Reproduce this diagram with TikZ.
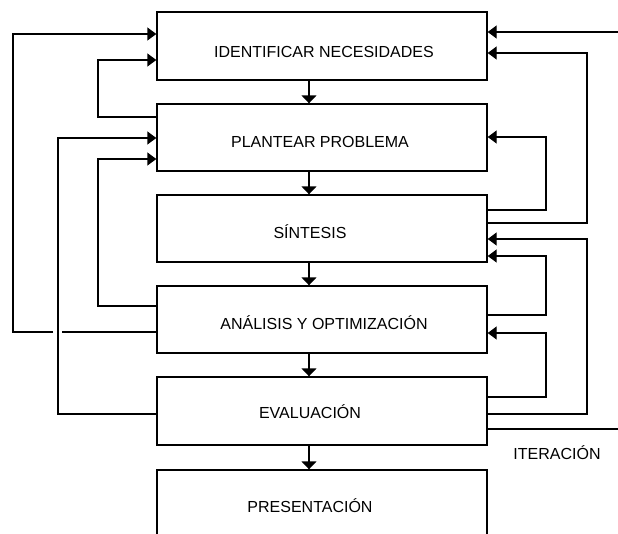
\documentclass[tikz,border=0pt]{standalone}
\usepackage{fontspec}
\setmainfont{Liberation Sans}
\usetikzlibrary{arrows.meta}
\begin{document}
\begin{tikzpicture}[x=1pt,y=-1pt,
  line width=1.4pt,
  stagebox/.style={draw, rectangle, minimum width=330pt, inner sep=0pt},
  lbl/.style={anchor=base, inner sep=0pt, font=\fontsize{16}{19}\selectfont},
  sidearr/.style={-{Triangle[length=9pt,width=13pt]}},
  downarr/.style={-{Triangle[length=8pt,width=15pt]}}]
\useasboundingbox (0,0) rectangle (618,533);
\clip (0,0) rectangle (618,533);
% boxes
\node[stagebox, minimum height=68pt] (b1) at (322,46) {};
\node[stagebox, minimum height=67pt] (b2) at (322,137.5) {};
\node[stagebox, minimum height=67pt] (b3) at (322,228.5) {};
\node[stagebox, minimum height=67pt] (b4) at (322,319.5) {};
\node[stagebox, minimum height=68pt] (b5) at (322,411) {};
\node[stagebox, minimum height=90pt] (b6) at (322,515) {};
% labels
\node[lbl] (t1) at (324,57) {IDENTIFICAR NECESIDADES};
\node[lbl] (t2) at (320,147) {PLANTEAR PROBLEMA};
\node[lbl] (t3) at (310,238) {SÍNTESIS};
\node[lbl] (t4) at (324,329) {ANÁLISIS Y OPTIMIZACIÓN};
\node[lbl] (t5) at (310,418) {EVALUACIÓN};
\node[lbl] (t6) at (310,512) {PRESENTACIÓN};
\node[lbl] (t7) at (557,459) {ITERACIÓN};
% free ends
\coordinate (gapR) at (62,332);
\coordinate (gapL) at (53,332);
\coordinate (inR) at (618,32);
\coordinate (outR) at (618,429);
% main flow
\draw[downarr] (309,0 |- b1.south) -- (309,0 |- b2.north);
\draw[downarr] (309,0 |- b2.south) -- (309,0 |- b3.north);
\draw[downarr] (309,0 |- b3.south) -- (309,0 |- b4.north);
\draw[downarr] (309,0 |- b4.south) -- (309,0 |- b5.north);
\draw[downarr] (309,0 |- b5.south) -- (309,0 |- b6.north);
% left feedback
\draw (b4.west |- 0,332) -- (gapR);
\draw[sidearr] (gapL) -- (13,332) -- (13,34) -- (b1.west |- 0,34);
\draw[sidearr] (b2.west |- 0,117) -| (98,60) -- (b1.west |- 0,60);
\draw[sidearr] (b5.west |- 0,414) -| (58,138) -- (b2.west |- 0,138);
\draw[sidearr] (b4.west |- 0,306) -| (98,159) -- (b2.west |- 0,159);
% right feedback
\draw[sidearr] (inR) -- (b1.east |- 0,32);
\draw[sidearr] (b3.east |- 0,223) -| (587,53) -- (b1.east |- 0,53);
\draw[sidearr] (b3.east |- 0,210) -| (546,137) -- (b2.east |- 0,137);
\draw[sidearr] (b5.east |- 0,414) -| (587,239) -- (b3.east |- 0,239);
\draw[sidearr] (b4.east |- 0,315) -| (546,256) -- (b3.east |- 0,256);
\draw[sidearr] (b5.east |- 0,397) -| (546,333) -- (b4.east |- 0,333);
\draw (b5.east |- 0,429) -- (outR);
\end{tikzpicture}
\end{document}
